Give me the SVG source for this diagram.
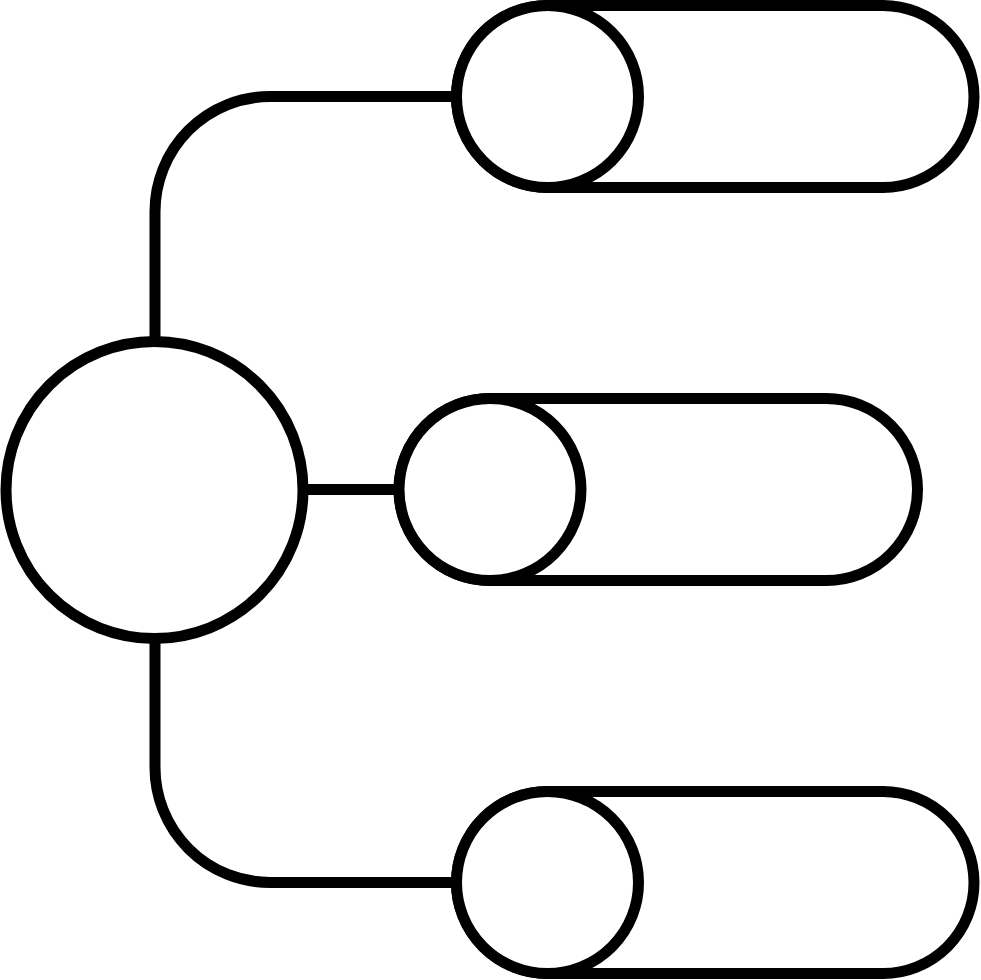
<svg xmlns="http://www.w3.org/2000/svg" width="981" height="980" viewBox="0 0 981 980">
<style>
.s{fill:none;stroke:#000;stroke-width:11}
.c{fill:#fff;stroke:#000;stroke-width:11}
</style>
<rect width="981" height="980" fill="#fff"/>
<g id="connectors">
<path class="s" d="M155,341.5 V211.5 A115,115 0 0 1 270,96.5 H456.5"/>
<path class="s" d="M303,489.5 H399"/>
<path class="s" d="M155,638.5 V767.5 A115,115 0 0 0 270,882.5 H456.5"/>
</g>
<g id="root">
<circle class="c" cx="154.5" cy="490" r="148.5"/>
</g>
<g id="item-top">
<rect class="s" x="456.5" y="5.5" width="517.5" height="182" rx="91"/>
<circle class="c" cx="547.5" cy="96.5" r="91"/>
</g>
<g id="item-middle">
<rect class="s" x="399" y="398.5" width="518.5" height="182" rx="91"/>
<circle class="c" cx="490" cy="489.5" r="91"/>
</g>
<g id="item-bottom">
<rect class="s" x="456.5" y="791.5" width="517.5" height="182" rx="91"/>
<circle class="c" cx="547.5" cy="882.5" r="91"/>
</g>
</svg>
